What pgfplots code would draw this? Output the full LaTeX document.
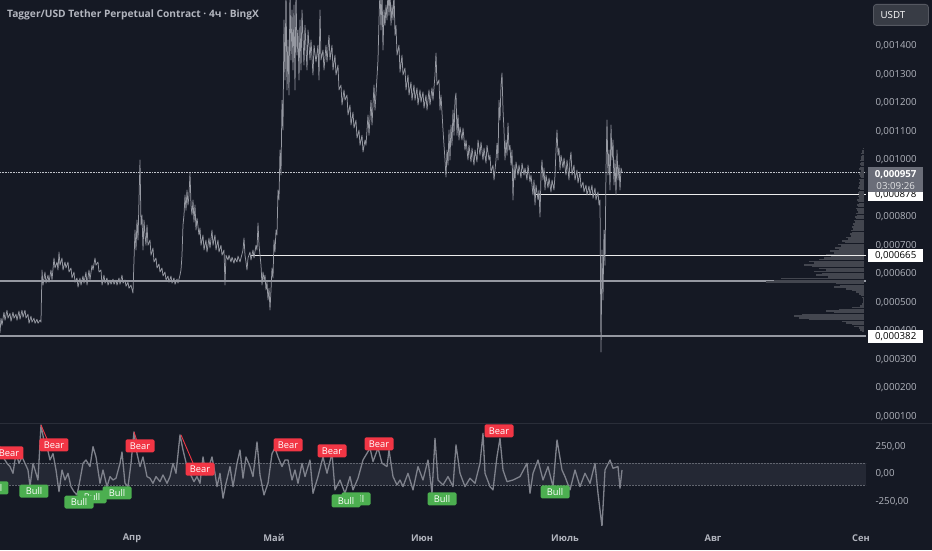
\documentclass[border=0pt]{standalone}
\usepackage{pgfplots}
\pgfplotsset{compat=1.18}
\usepackage{fontspec}
\setmainfont{Open Sans}

\definecolor{bg}{HTML}{151924}
\definecolor{pricec}{HTML}{9598A1}
\definecolor{oscc}{HTML}{7F828C}
\definecolor{bandc}{HTML}{242834}
\definecolor{labc}{HTML}{B2B5BE}
\definecolor{sepc}{HTML}{2A2E39}
\definecolor{volc}{HTML}{43464F}
\definecolor{bearc}{HTML}{F23645}
\definecolor{bullc}{HTML}{4CAF50}
\definecolor{lastc}{HTML}{6A6D78}

\pgfplotstableread{
x p
0 393
1 445
2 420
4 466
5 438
7 473
8 445
10 462
11 434
13 466
14 445
16 459
17 438
19 470
20 441
22 473
23 448
25 473
26 445
28 459
29 427
31 452
32 431
34 445
35 427
37 441
38 427
40 438
41 431
42 614
43 561
45 607
46 568
48 596
49 571
51 614
52 579
54 656
55 621
57 642
58 614
59 677
60 631
62 656
63 614
65 642
66 621
68 642
69 607
71 621
72 586
74 607
75 571
77 586
78 554
80 586
81 561
83 593
84 568
86 607
87 561
89 614
90 579
92 631
93 614
95 656
96 631
98 642
99 607
101 614
102 561
104 596
105 568
107 586
108 561
110 579
111 564
113 582
114 564
116 579
117 561
119 586
120 564
122 596
123 568
125 579
126 557
128 571
129 550
131 561
133 533
134 649
135 754
136 684
137 789
138 719
139 860
140 1000
141 772
142 807
143 684
144 789
145 737
146 701
147 772
148 701
150 719
151 666
153 691
154 642
156 656
157 621
159 635
160 607
162 621
163 593
165 607
166 579
168 593
169 571
171 593
172 568
174 586
175 564
177 582
178 568
180 596
181 614
182 666
183 772
184 807
185 877
186 824
187 895
188 842
189 877
190 954
191 842
192 807
193 860
194 782
195 842
196 754
197 796
199 737
200 761
201 701
203 737
204 684
206 719
207 677
209 726
210 691
212 754
213 701
215 737
216 684
218 719
219 677
221 701
222 666
224 684
225 561
226 666
228 649
229 666
231 642
232 659
234 638
235 656
237 642
238 663
240 642
241 656
243 684
244 726
245 666
246 642
247 614
248 656
250 677
251 649
253 684
254 656
256 701
257 684
258 779
259 701
260 666
261 631
262 561
263 607
264 579
265 596
266 544
267 571
268 509
269 550
270 474
271 544
272 621
273 586
274 719
275 677
276 754
277 737
278 895
279 860
280 1035
281 947
282 1210
283 1105
284 1491
285 1281
286 1600
287 1246
288 1421
289 1228
290 1600
291 1351
292 1526
293 1316
294 1544
295 1246
296 1600
297 1368
298 1456
299 1281
300 1491
301 1316
302 1526
304 1333
305 1473
307 1316
308 1456
310 1351
311 1421
313 1298
314 1403
316 1344
318 1403
319 1281
320 1526
321 1351
323 1386
324 1316
326 1403
327 1344
329 1438
330 1351
332 1403
333 1316
335 1368
336 1298
338 1333
339 1246
341 1263
342 1193
344 1246
345 1210
347 1228
348 1158
350 1193
351 1123
353 1168
354 1112
356 1140
357 1077
359 1105
360 1052
362 1087
363 1028
365 1070
366 1052
368 1158
369 1087
371 1210
372 1123
374 1263
375 1175
377 1291
378 1351
379 1491
380 1600
381 1456
382 1600
383 1386
384 1526
385 1473
386 1544
387 1491
388 1600
389 1508
390 1600
391 1473
392 1544
393 1491
394 1600
395 1438
396 1473
397 1368
399 1403
400 1308
402 1368
403 1298
405 1323
406 1246
408 1298
409 1228
411 1274
412 1210
414 1263
415 1210
417 1253
418 1193
420 1246
421 1203
423 1239
424 1182
426 1228
427 1175
429 1246
430 1193
432 1253
433 1210
435 1298
436 1375
437 1263
439 1281
440 1175
441 1228
443 1105
444 1052
445 1000
446 940
447 1035
448 982
449 1105
450 1000
451 1123
452 1052
453 1175
454 1087
455 1210
456 1235
457 1087
458 1158
459 1070
460 1116
462 1070
463 1112
465 1035
466 1070
468 1000
469 1052
471 993
472 1042
474 982
475 1035
477 993
478 1070
480 1017
481 1063
483 1000
484 1042
486 989
487 1052
489 1000
490 1017
491 958
493 982
494 930
496 1000
497 1059
498 1000
499 1210
500 1140
501 1263
502 1305
503 1175
504 1105
505 1000
506 1070
507 1017
508 1130
509 1035
510 1052
511 982
512 1035
513 860
514 982
515 930
516 993
518 947
519 982
521 937
522 989
524 947
525 972
527 930
528 982
530 923
531 947
533 877
534 930
535 842
536 912
538 860
539 895
540 800
541 947
542 1000
543 930
544 972
545 895
546 947
548 902
549 937
551 888
552 930
554 895
555 947
556 1035
557 1105
558 1017
559 1042
560 965
561 1017
563 972
564 1007
566 947
567 1000
569 930
570 1000
571 1028
572 947
574 982
575 930
577 965
578 919
580 958
581 902
583 923
584 888
586 912
587 877
589 909
590 877
592 912
593 866
595 902
596 860
598 888
599 842
600 860
601 326
602 684
603 509
604 754
605 631
606 965
607 1140
608 947
609 1035
610 895
611 1123
612 1000
613 1070
614 912
615 1000
616 877
617 1035
618 930
619 982
620 895
621 972
622 958
}\pricetable

\pgfplotstableread{
len p
1 1040
2 1034
2 1028
3 1022
2 1016
3 1010
3 1004
4 998
3 992
4 986
3 980
4 974
5 968
3 962
4 956
5 950
4 944
3 938
5 932
4 926
5 920
4 914
5 908
6 902
4 896
5 890
6 884
5 878
6 872
5 866
7 860
6 854
5 848
7 842
6 836
8 830
7 824
6 818
8 812
7 806
9 800
8 794
10 788
9 782
11 776
10 770
12 764
11 758
13 752
12 746
14 740
13 734
18 728
16 722
22 716
19 710
26 704
23 698
29 692
25 686
34 680
30 674
38 668
33 662
40 656
45 650
55 644
50 638
60 632
52 626
45 620
38 614
50 608
42 602
48 596
36 590
83 584
90 578
98 572
28 566
24 560
30 554
18 548
12 542
8 536
5 530
3 524
2 518
1 512
1 506
1 500
2 494
4 488
12 482
25 476
38 470
30 464
62 458
70 452
65 446
55 440
22 434
18 428
12 422
10 416
5 410
4 404
2 398
}\voltable

\pgfplotstableread{
x v
0 248
3 155
7 97
10 67
13 6
16 188
19 97
22 155
25 97
28 36
30 -115
33 97
36 6
38 -55
41 445
44 300
47 248
50 127
53 185
56 36
59 -161
62 36
65 -55
68 6
71 -115
74 -161
77 -191
80 -55
83 97
86 127
90 67
93 248
96 155
100 -85
103 36
107 -115
110 -24
113 -55
116 -39
120 97
122 200
125 -85
128 -115
131 97
134 382
137 185
140 67
143 155
147 -24
150 -39
153 -85
156 -24
160 -70
163 -9
167 -85
170 -24
173 97
176 6
180 355
183 218
187 67
190 6
194 -70
197 -24
200 -85
203 155
206 -9
210 97
212 155
215 6
217 -115
220 6
223 -221
226 -85
230 67
233 -115
237 97
240 218
243 -39
246 155
250 67
253 -24
257 291
260 -9
264 -191
268 -85
272 185
275 236
278 155
282 67
285 127
288 127
292 -55
295 36
298 -85
302 97
305 -24
310 127
313 -176
318 -24
323 155
327 6
332 188
335 -145
340 -55
345 -176
350 -24
353 -145
358 -39
363 127
367 188
370 236
373 112
378 236
382 97
387 67
389 218
393 -24
397 -100
400 -55
403 -115
408 6
413 -145
418 67
423 -55
428 127
432 -176
435 324
438 -55
443 -100
448 -24
453 -115
456 264
460 6
465 -115
470 -39
475 -85
480 97
483 370
485 6
490 -115
493 -145
497 158
500 324
503 36
507 -70
513 -55
520 -24
527 97
530 -176
533 6
538 127
543 -55
548 67
553 -115
557 309
562 36
565 -24
570 -145
575 36
580 -115
585 6
590 -85
595 97
598 -176
602 -479
605 36
610 127
613 52
618 67
620 -130
622 36
}\osctable

\pgfplotsset{
  panel/.style={
    scale only axis, anchor=south west, width=866pt,
    xmin=0, xmax=866,
    axis line style={draw=none},
    major tick length=0pt,
    tick label style={font=\fontsize{9.7}{9.7}\selectfont, text=labc},
    yticklabel pos=right,
    yticklabel style={anchor=west, xshift=6pt},
    clip mode=individual,
  },
}
\tikzset{
  lbl/.style={rounded corners=1.5pt, inner sep=0pt, minimum width=29pt,
    minimum height=13pt, text=white, font=\fontsize{9.3}{9.3}\selectfont},
  bear/.style={lbl, fill=bearc},
  bull/.style={lbl, fill=bullc},
  pbox/.style={fill=white, text=black, anchor=west, inner sep=0pt,
    minimum width=55pt, minimum height=13pt, font=\fontsize{9.7}{9.7}\selectfont},
}

\begin{document}
\begin{tikzpicture}
\useasboundingbox (0pt,0pt) rectangle (932pt,550pt);
\fill[bg] (0pt,0pt) rectangle (932pt,550pt);

% price panel
\begin{axis}[panel, at={(0pt,125pt)}, height=425pt,
  ymin=70.1, ymax=1561.4, xtick=\empty,
  ytick={100,200,300,400,500,600,700,800,1000,1100,1200,1300,1400},
  yticklabels={0{,}000100,0{,}000200,0{,}000300,0{,}000400,0{,}000500,0{,}000600,
    0{,}000700,0{,}000800,0{,}001000,0{,}001100,0{,}001200,0{,}001300,0{,}001400}]
\addplot[draw=labc!80, densely dotted, line width=0.6pt] coordinates {(0,957) (866,957)};
\addplot[draw=pricec, line width=1.4pt] coordinates {(0,575) (866,575)};
\addplot[draw=pricec, line width=1.4pt] coordinates {(0,382) (866,382)};
\addplot[draw=white!85!gray, line width=0.9pt] coordinates {(250,665) (866,665)};
\addplot[draw=white!85!gray, line width=1.1pt] coordinates {(535,878) (866,878)};
\addplot[draw=pricec, line width=0.75pt, line join=round] table[x=x, y=p] {\pricetable};
\coordinate (c957) at (axis cs:866,957);
\coordinate (c878) at (axis cs:866,878);
\coordinate (c665) at (axis cs:866,665);
\coordinate (c382) at (axis cs:866,382);
\end{axis}

% volume profile, bars grow leftwards from the price scale
\begin{axis}[at={(0pt,125pt)}, anchor=south west, scale only axis,
  width=866pt, height=425pt, x dir=reverse, xmin=-2, xmax=864,
  ymin=70.1, ymax=1561.4, hide axis]
\addplot[xcomb, draw=volc, line width=1.5pt] table[x=len, y=p] {\voltable};
\end{axis}

\draw[sepc, line width=0.8pt] (0pt,126.5pt) -- (932pt,126.5pt);

% oscillator panel
\begin{axis}[panel, at={(0pt,25pt)}, height=100pt,
  ymin=-464, ymax=445,
  ytick={-250,0,250}, yticklabels={-250{,}00,0{,}00,250{,}00},
  xtick={132,274,422,565,713,861},
  xticklabels={Апр,Май,Июн,Июль,Авг,Сен},
  xticklabel style={font=\bfseries\fontsize{9.3}{9.3}\selectfont, anchor=center, yshift=-13pt}]
\fill[bandc] (axis cs:0,-100) rectangle (axis cs:866,100);
\addplot[draw=sepc!60!labc, densely dotted, line width=0.5pt] coordinates {(0,100) (866,100)};
\addplot[draw=sepc!60!labc, densely dotted, line width=0.5pt] coordinates {(0,-100) (866,-100)};
\addplot[draw=oscc, line width=1.3pt, line join=round] table[x=x, y=v] {\osctable};
\draw[bearc, line width=0.9pt] (axis cs:41,445) -- (axis cs:47,318);
\draw[bearc, line width=0.9pt] (axis cs:134,382) -- (axis cs:137,300);
\draw[bearc, line width=0.9pt] (axis cs:181,355) -- (axis cs:193,100);
\node[bear] at (axis cs:9,191) {Bear};
\node[bear] at (axis cs:54,264) {Bear};
\node[bear] at (axis cs:140,255) {Bear};
\node[bear] at (axis cs:200,45) {Bear};
\node[bear] at (axis cs:288,264) {Bear};
\node[bear] at (axis cs:332,209) {Bear};
\node[bear] at (axis cs:379,273) {Bear};
\node[bear] at (axis cs:499,391) {Bear};
\node[bull] at (axis cs:-6,-127) {Bull};
\node[bull] at (axis cs:34,-155) {Bull};
\node[bull] at (axis cs:117,-173) {Bull};
\node[bull] at (axis cs:92,-209) {Bull};
\node[bull] at (axis cs:79,-255) {Bull};
\node[bull] at (axis cs:356,-227) {Bull};
\node[bull] at (axis cs:346,-245) {Bull};
\node[bull] at (axis cs:442,-227) {Bull};
\node[bull] at (axis cs:555,-164) {Bull};
\end{axis}

% price scale boxes
\node[pbox] at ([xshift=2pt]c878) {0,000878};
\node[pbox] at ([xshift=2pt]c665) {0,000665};
\node[pbox] at ([xshift=2pt]c382) {0,000382};
\node[fill=lastc, text=white, anchor=north west, inner sep=0pt, minimum width=55pt,
  minimum height=25pt, align=center, font=\fontsize{9.7}{11.5}\selectfont]
  at ([xshift=2pt, yshift=5pt]c957) {\textbf{0,000957}\\{\color{white!80!lastc}03:09:26}};
\node[draw=sepc!80!white, line width=0.8pt, fill=bg!85!white, rounded corners=3pt,
  anchor=north west, minimum width=55pt, minimum height=21pt, inner sep=0pt,
  text=white, font=\fontsize{9.7}{9.7}\selectfont] at (873pt,546pt)
  {\hspace*{-16pt}USDT};

% title
\node[anchor=base west, text=labc, font=\bfseries\fontsize{10.2}{10.2}\selectfont, inner sep=0pt]
  at (7pt,532pt) {Tagger/USD Tether Perpetual Contract · 4ч · BingX};
\end{tikzpicture}
\end{document}
